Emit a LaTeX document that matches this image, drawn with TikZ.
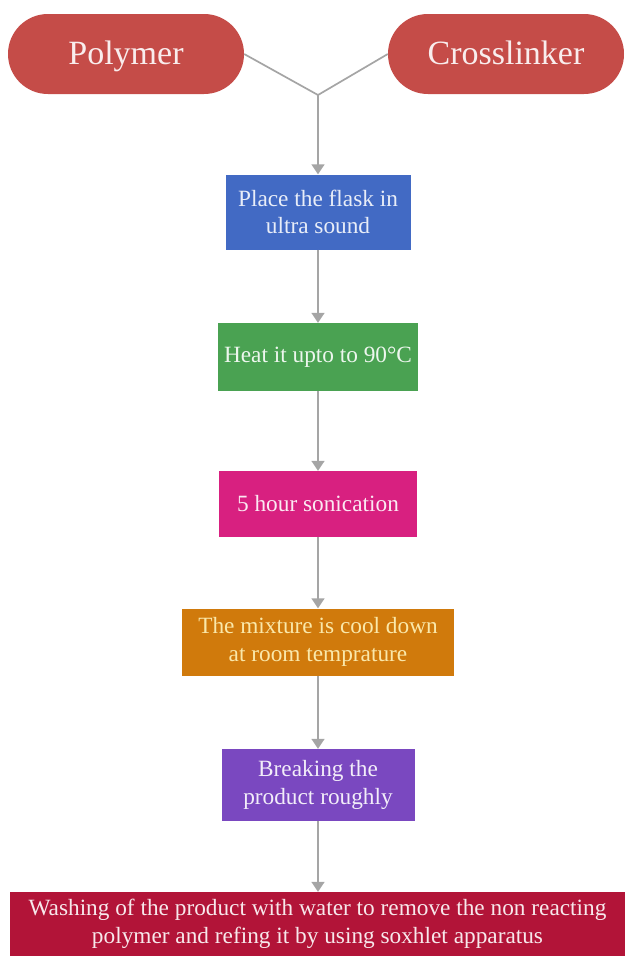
\documentclass[tikz,border=0pt]{standalone}
\usepackage{fontspec}
\setmainfont{LiberationSerif}[Extension=.ttf,UprightFont=*-Regular,BoldFont=*-Bold]
\usetikzlibrary{arrows.meta}
\definecolor{pillred}{RGB}{197,76,72}
\definecolor{bblue}{RGB}{66,106,196}
\definecolor{bgreen}{RGB}{74,162,82}
\definecolor{bpink}{RGB}{216,32,128}
\definecolor{borange}{RGB}{208,122,12}
\definecolor{bpurple}{RGB}{122,72,192}
\definecolor{bcrimson}{RGB}{178,20,56}
\definecolor{linegray}{RGB}{165,165,165}
\tikzset{
  pill/.style={fill=pillred, rounded corners=39.9pt, minimum width=236pt, minimum height=80pt,
    inner sep=0pt, text height=26pt, text depth=6pt, text=pillred!10!white, font=\fontsize{34}{38}\selectfont},
  stepbox/.style={minimum height=70pt, inner sep=4pt, align=center,
    font=\fontsize{23.3}{27.5}\selectfont},
  conn/.style={draw=linegray, line width=1.7pt},
  arr/.style={conn, -{Triangle[width=13pt,length=10pt]}}
}
\begin{document}
\begin{tikzpicture}[x=1pt,y=-1pt]
\useasboundingbox (0,0) rectangle (625,956);
\node[pill] (poly) at (126,54) {Polymer};
\node[pill] (cross) at (506,54) {Crosslinker};
\coordinate (join) at (318,95);
\node[stepbox, fill=bblue, text=bblue!12!white, minimum width=185pt, minimum height=75pt] (s1) at (318,212) {Place the flask in\\ultra sound};
\node[stepbox, fill=bgreen, text=bgreen!10!white, minimum width=200pt, minimum height=68pt] (s2) at (318,357) {Heat it upto to 90°C};
\node[stepbox, fill=bpink, text=bpink!10!white, minimum width=198pt, minimum height=66pt] (s3) at (318,504) {5 hour sonication};
\node[stepbox, fill=borange, text={rgb,255:red,250;green,232;blue,170}, minimum width=272pt, minimum height=67pt] (s4) at (318,642) {The mixture is cool down\\at room temprature};
\node[stepbox, fill=bpurple, text=bpurple!10!white, minimum width=193pt, minimum height=72pt] (s5) at (318,785) {Breaking the\\product roughly};
\node[stepbox, fill=bcrimson, text=bcrimson!10!white, minimum width=615pt, minimum height=64pt, inner sep=2pt] (s6) at (317.5,924) {Washing of the product with water to remove the non reacting\\polymer and refing it by using soxhlet apparatus};
\draw[conn] (poly.east) -- (join);
\draw[conn] (cross.west) -- (join);
\draw[arr] (join) -- (s1.north);
\draw[arr] (s1.south) -- (s2.north);
\draw[arr] (s2.south) -- (s3.north);
\draw[arr] (s3.south) -- (s4.north);
\draw[arr] (s4.south) -- (s5.north);
\draw[arr] (s5.south) -- (s6.north -| s5.south);
\end{tikzpicture}
\end{document}
